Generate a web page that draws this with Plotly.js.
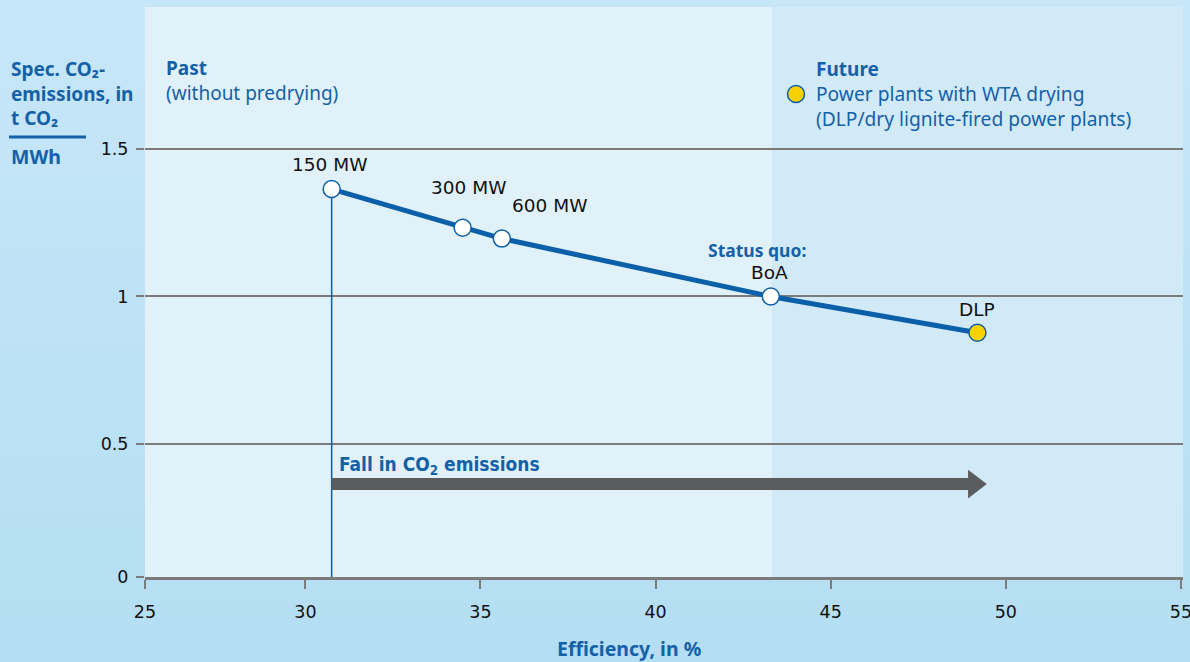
<!DOCTYPE html>
<html>
<head>
<meta charset="utf-8">
<script src="https://cdn.plot.ly/plotly-3.0.1.min.js"></script>
<style>
html,body{margin:0;padding:0;}
body{width:1190px;height:662px;background:linear-gradient(to bottom,#c7e7f8 0%,#b4def3 100%);overflow:hidden;}
#chart{width:1190px;height:662px;}
</style>
</head>
<body>
<div id="chart"></div>
<script>
// ---- data ----
const plantLabels = ["150 MW", "300 MW", "600 MW", "BoA", "DLP"];
const efficiency = [30.75, 34.49, 35.61, 43.29, 49.19];      // %
const specCO2 = [1.364, 1.233, 1.196, 1.0, 0.877];          // t CO2 / MWh
const markerFill = ["#ffffff", "#ffffff", "#ffffff", "#ffffff", "#f8d200"];
const xTickVals = [25.42, 30, 35, 40, 45, 50, 55];
const xTickText = ["25", "30", "35", "40", "45", "50", "55"];
const yTickVals = [0.049, 0.5, 1, 1.5];
const yTickText = ["0", "0.5", "1", "1.5"];
const xRange = [25.42, 55.06];
const yRange = [0.049, 1.981];
const futureStart = 43.34;      // boundary between past and future regions
const arrowY = 0.364;           // level of the "Fall in CO2 emissions" arrow
const arrowTip = 49.5;

// ---- layout helpers ----
const L = 145, R = 7, T = 7, B = 85, W = 1190, H = 662;
const pw = W - L - R, ph = H - T - B;
const px = v => (v - L) / pw;
const py = v => (H - B - v) / ph;
const pxPerUnit = pw / (xRange[1] - xRange[0]);

const BLUE = "#0b5ea8";
const TBLUE = "#1461a8";
const GREY = "#7b7b7b";
const blueFont = (size, bold) => ({family: "Noto Sans", size: size, color: TBLUE, weight: bold ? 700 : 400});

const headCenter = arrowTip - 14 / pxPerUnit;

const traces = [
  // vertical reference line from 150 MW point
  {x: [efficiency[0], efficiency[0]], y: [yRange[0], specCO2[0]], mode: "lines",
   line: {color: BLUE, width: 1.5}, hoverinfo: "skip", showlegend: false},
  // arrow shaft
  {x: [efficiency[0], headCenter], y: [arrowY, arrowY], mode: "lines",
   line: {color: "#5b5c5e", width: 12}, hoverinfo: "skip", showlegend: false},
  // arrow head
  {x: [headCenter], y: [arrowY], mode: "markers",
   marker: {symbol: "triangle-right", size: 25, color: "#5b5c5e", line: {width: 0}},
   hoverinfo: "skip", showlegend: false},
  // main series
  {x: efficiency, y: specCO2, mode: "lines+markers", text: plantLabels,
   line: {color: BLUE, width: 5},
   marker: {size: 17, color: markerFill, line: {color: BLUE, width: 1.5}},
   showlegend: false}
];

const labelShift = [[-2, 25], [6, 40], [48, 33], [-1, 24], [0, 23]];
const annotations = plantLabels.map((t, i) => ({
  x: efficiency[i], y: specCO2[i], xref: "x", yref: "y", text: t, showarrow: false,
  xshift: labelShift[i][0], yshift: labelShift[i][1], xanchor: "center", yanchor: "middle",
  font: {family: "DejaVu Sans", size: 18.5, color: "#111111"}
}));

const txt = (text, x, y, font, xanchor, yanchor) => ({
  text: text, x: px(x), y: py(y), xref: "paper", yref: "paper", showarrow: false,
  xanchor: xanchor || "left", yanchor: yanchor || "middle", align: "left", font: font
});

annotations.push(
  txt("<b>Spec. CO₂-</b><br><b>emissions, in</b><br><b>t CO₂</b>", 9, 54, blueFont(19, false), "left", "top"),
  txt("MWh", 9, 156, blueFont(19.5, true)),
  txt("<b>Past</b><br>(without predrying)", 164, 53, blueFont(19, false), "left", "top"),
  txt("<b>Future</b>", 814, 69, blueFont(19, false)),
  txt("Power plants with WTA drying<br>(DLP/dry lignite-fired power plants)", 814, 78, blueFont(19.2, false), "left", "top"),
  txt("Status quo:", 757, 250, blueFont(17.5, true), "center"),
  txt("Fall in CO<sub>2</sub> emissions", 337, 465, {family: "DejaVu Sans Condensed", size: 19, color: TBLUE, weight: 700}),
  txt("Efficiency, in %", 629, 648, blueFont(19.5, true), "center")
);

const shapes = [
  {type: "rect", xref: "x", yref: "paper", x0: xRange[0], x1: futureStart, y0: 0, y1: 1,
   fillcolor: "#e1f1fa", line: {width: 0}, layer: "below"},
  {type: "rect", xref: "x", yref: "paper", x0: futureStart, x1: xRange[1], y0: 0, y1: 1,
   fillcolor: "#d2eaf8", line: {width: 0}, layer: "below"},
  {type: "line", xref: "paper", yref: "paper", x0: px(9), x1: px(86), y0: py(137), y1: py(137),
   line: {color: TBLUE, width: 3}},
  {type: "circle", xref: "paper", yref: "paper", xsizemode: "pixel", ysizemode: "pixel",
   xanchor: px(796), yanchor: py(94), x0: -8.5, x1: 8.5, y0: -8.5, y1: 8.5,
   fillcolor: "#f8d200", line: {color: BLUE, width: 1.5}}
];

const layout = {
  width: W, height: H,
  margin: {l: L, r: R, t: T, b: B, pad: 0},
  paper_bgcolor: "rgba(0,0,0,0)",
  plot_bgcolor: "rgba(0,0,0,0)",
  showlegend: false,
  xaxis: {
    range: xRange, tickvals: xTickVals, ticktext: xTickText,
    showgrid: false, zeroline: false, showline: true, linecolor: GREY, linewidth: 2.5,
    ticks: "outside", ticklen: 9, tickwidth: 2, tickcolor: GREY, ticklabelstandoff: 8,
    ticklabeloverflow: "allow",
    tickfont: {family: "DejaVu Sans", size: 17.5, color: "#111111"}, fixedrange: true
  },
  yaxis: {
    range: yRange, tickvals: yTickVals, ticktext: yTickText,
    showgrid: true, gridcolor: GREY, gridwidth: 2, zeroline: false, showline: false,
    ticks: "outside", ticklen: 8, tickwidth: 2, tickcolor: GREY, ticklabelstandoff: 4,
    ticklabeloverflow: "allow",
    tickfont: {family: "DejaVu Sans", size: 17.5, color: "#111111"}, fixedrange: true
  },
  shapes: shapes,
  annotations: annotations
};

Plotly.newPlot("chart", traces, layout, {displayModeBar: false, staticPlot: true});
</script>
</body>
</html>
